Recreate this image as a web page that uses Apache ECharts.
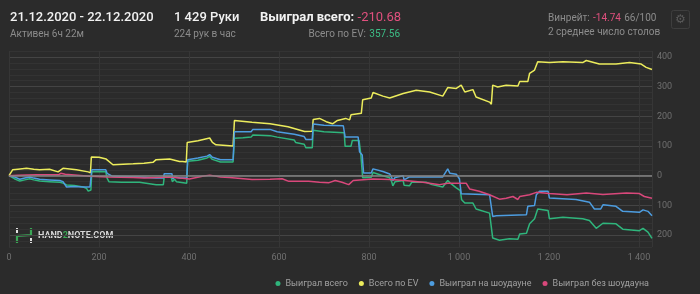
<!DOCTYPE html>
<html><head><meta charset="utf-8">
<script src="https://cdn.jsdelivr.net/npm/echarts@6/dist/echarts.min.js"></script>
<style>html,body{margin:0;padding:0;background:#2b2b2b;}#c{width:700px;height:294px;}</style>
</head><body><div id="c"></div>
<script>
const seriesNames = ['Выиграл всего', 'Всего по EV', 'Выиграл на шоудауне', 'Выиграл без шоудауна'];
const xTickLabels = ['0', '200', '400', '600', '800', '1 000', '1 200', '1 400'];

const totalHands = [0,5,12,24,35,46,55,68,90,113,120,128,145,165,172,176,180,182,184,200,215,218,222,250,290,294,327,343,345,360,363,368,372,395,397,420,440,446,452,456,470,498,501,520,538,542,580,596,600,634,637,656,660,674,676,700,745,747,760,763,778,782,786,805,809,831,846,850,853,858,876,878,890,895,927,940,964,975,980,994,1003,1006,1013,1031,1038,1068,1072,1075,1090,1112,1131,1135,1150,1157,1168,1175,1198,1201,1231,1275,1290,1305,1320,1349,1364,1401,1409,1420,1429];
const totalWon = [0,-4,-10,-18,-14,-10,-14,-18,-20,-22,-25,-31,-33,-38,-42,-52,-46,-48,13,14,13,-8,-20,-22,-22,-27,-30,-30,-3,-3,-20,-12,-20,-25,49,52,60,65,55,50,46,46,126,128,130,137,135,130,128,120,112,106,94,94,153,148,145,99,99,119,119,70,-7,-5,11,0,-7,-18,-34,-20,-16,-32,-34,-22,-22,-30,-38,-16,-24,-41,-50,-81,-92,-92,-112,-126,-126,-210,-217,-212,-214,-196,-194,-162,-145,-112,-117,-145,-140,-145,-151,-177,-160,-162,-180,-185,-177,-190,-210.68];

const evHands = [0,8,20,39,55,68,90,109,120,150,176,181,183,200,216,231,276,300,320,327,357,379,386,394,396,420,446,452,460,498,501,540,580,620,657,661,674,676,690,705,719,730,748,757,760,764,783,786,805,809,831,846,876,905,935,964,975,994,1005,1013,1031,1038,1068,1072,1075,1086,1105,1131,1135,1153,1157,1168,1175,1201,1231,1275,1283,1312,1349,1379,1405,1416,1429];
const evWon = [0,20,22,25,22,20,22,13,25,20,13,10,63,62,56,37,40,42,45,54,56,48,48,46,112,118,127,112,104,100,186,180,175,165,149,147,150,189,193,182,175,186,193,188,205,210,210,256,262,280,268,262,277,288,282,268,297,294,305,282,290,265,248,241,305,299,305,302,317,317,345,356,384,381,384,381,388,376,376,381,376,365,357.56];

const sdHands = [0,5,12,24,35,46,55,68,90,113,120,128,145,165,180,182,184,215,218,230,290,294,327,343,345,362,364,368,380,395,397,420,440,446,452,456,470,498,501,538,542,580,596,634,637,656,660,674,676,700,743,747,776,779,785,788,805,809,831,846,850,853,858,876,878,890,927,964,975,980,994,1001,1005,1068,1072,1075,1083,1150,1153,1168,1172,1179,1198,1201,1260,1290,1301,1315,1320,1349,1364,1401,1409,1420,1429];
const sdWon = [0,-2,-4,-12,-8,-4,-8,-12,-14,-16,-20,-38,-36,-38,-38,-38,20,20,8,-2,-4,-8,-8,-8,7,7,-11,-4,-8,-8,54,60,66,71,62,58,54,54,148,148,156,156,148,140,135,132,122,122,174,170,168,130,130,81,70,9,9,23,14,6,-4,-16,-6,0,-14,-4,-4,-4,23,8,5,-10,-61,-64,-66,-137,-135,-131,-103,-100,-64,-52,-52,-75,-80,-89,-112,-112,-98,-103,-120,-123,-115,-120,-135];

const nsdHands = [0,20,60,110,115,125,180,220,276,300,357,380,401,430,446,470,490,540,580,607,622,666,690,710,725,740,755,765,809,846,880,920,957,975,994,1016,1024,1045,1068,1090,1105,1120,1131,1135,1157,1172,1201,1240,1283,1320,1372,1401,1412,1429];
const nsdWon = [0,2,3,3,8,5,-2,-4,-6,-8,-4,-8,-11,-2,2,-4,-6,-13,-12,-10,-19,-19,-22,-24,-16,-22,-30,-16,-11,-13,-16,-22,-30,-25,-25,-25,-45,-52,-64,-79,-76,-70,-80,-70,-64,-56,-60,-64,-58,-63,-58,-60,-70,-75.68];

const colors = ['#2fb57c', '#ecec5c', '#4d9de0', '#d9487b'];
const pairs = (h, v) => h.map((x, i) => [x, v[i]]);

const chart = echarts.init(document.getElementById('c'), null, {renderer: 'canvas'});
const FONT = 'Roboto';
const gray = '#8c8c8c';

const mkSeries = (i, h, v, extra) => Object.assign({
  name: seriesNames[i], type: 'line', data: pairs(h, v), showSymbol: false, symbol: 'circle',
  lineStyle: {width: 1.5, color: colors[i]}, itemStyle: {color: colors[i]}, animation: false
}, extra || {});

chart.setOption({
  backgroundColor: '#2b2b2b',
  animation: false,
  textStyle: {fontFamily: FONT},
  grid: {left: 9, right: 48, top: 51, bottom: 47},
  xAxis: {
    type: 'value', min: 0, max: 1429, interval: 200,
    axisLine: {show: false}, axisTick: {show: false},
    axisLabel: {color: '#707070', fontSize: 9, fontFamily: FONT, margin: 6, showMaxLabel: false,
      formatter: v => xTickLabels[Math.round(v / 200)] || ''},
    splitLine: {show: true, lineStyle: {color: '#363636', width: 1}}
  },
  yAxis: {
    type: 'value', position: 'right', min: -240, max: 420, interval: 20,
    axisLine: {show: false}, axisTick: {show: false},
    axisLabel: {color: '#707070', fontSize: 9, fontFamily: FONT, margin: 5, align: 'left',
      formatter: v => (v % 100 === 0 ? String(Math.abs(v)) : '')},
    splitLine: {show: true, lineStyle: {color: ['#333333', '#333333', '#444444', '#333333', '#333333'], width: 1}}
  },
  legend: {
    right: 46, top: 274, icon: 'circle', itemWidth: 5, itemHeight: 5, itemGap: 11,
    textStyle: {color: '#a0a0a0', fontSize: 9, fontFamily: FONT},
    data: seriesNames
  },
  series: [
    mkSeries(0, totalHands, totalWon, {
      markLine: {silent: true, symbol: 'none', label: {show: false}, animation: false,
        lineStyle: {color: '#858585', width: 1.5, type: 'solid'}, data: [{yAxis: 0}]}
    }),
    mkSeries(1, evHands, evWon),
    mkSeries(2, sdHands, sdWon),
    mkSeries(3, nsdHands, nsdWon)
  ],
  graphic: [
    {type: 'text', left: 10, top: 11, style: {text: '21.12.2020 - 22.12.2020', fill: '#f2f2f2', font: '500 13px Roboto'}},
    {type: 'text', left: 10, top: 29, style: {text: 'Активен 6ч 22м', fill: gray, font: '10px Roboto'}},
    {type: 'text', left: 174, top: 11, style: {text: '1 429 Руки', fill: '#f2f2f2', font: '500 13px Roboto'}},
    {type: 'text', left: 174, top: 29, style: {text: '224 рук в час', fill: gray, font: '10px Roboto'}},
    {type: 'text', left: 260, top: 11, style: {
      text: '{a|Выиграл всего:} {b|-210.68}',
      rich: {a: {fill: '#f2f2f2', font: 'bold 13px Roboto'}, b: {fill: '#e0507e', font: '13px Roboto'}}}},
    {type: 'text', right: 300, top: 28, style: {
      text: '{a|Всего по EV:} {b|357.56}',
      rich: {a: {fill: gray, font: '10px Roboto'}, b: {fill: '#3cbd86', font: '10px Roboto'}}}},
    {type: 'text', left: 548, top: 12, style: {
      text: '{a|Винрейт:} {b|-14.74} {a|66/100}',
      rich: {a: {fill: gray, font: '10px Roboto'}, b: {fill: '#e0507e', font: '10px Roboto'}}}},
    {type: 'text', left: 548, top: 27, style: {text: '2 среднее число столов', fill: gray, font: '10px Roboto'}},
    {type: 'rect', shape: {x: 671.5, y: 10.5, width: 18, height: 18, r: 2}, style: {fill: 'none', stroke: '#3e3e3e', lineWidth: 1}},
    {type: 'text', x: 680.5, y: 19.5, style: {text: '⚙', fill: '#5a5a5a', font: '12px "DejaVu Sans"', align: 'center', verticalAlign: 'middle'}},
    {type: 'polyline', shape: {points: [[17, 228], [17, 233]]}, style: {stroke: '#e0e0e0', lineWidth: 2}},
    {type: 'polyline', shape: {points: [[17, 243], [17, 236], [31, 235], [31, 228]]}, style: {stroke: '#3aa655', lineWidth: 2.2, fill: 'none'}},
    {type: 'polyline', shape: {points: [[31, 238], [31, 243]]}, style: {stroke: '#e0e0e0', lineWidth: 2}},
    {type: 'text', left: 38, top: 231.5, style: {
      text: '{a|HAND}{b|2}{a|NOTE.COM}',
      rich: {a: {fill: '#d6d6d6', font: 'bold 9px Roboto'}, b: {fill: '#3aa655', font: 'bold 9px Roboto'}}}}
  ]
});
</script></body></html>
